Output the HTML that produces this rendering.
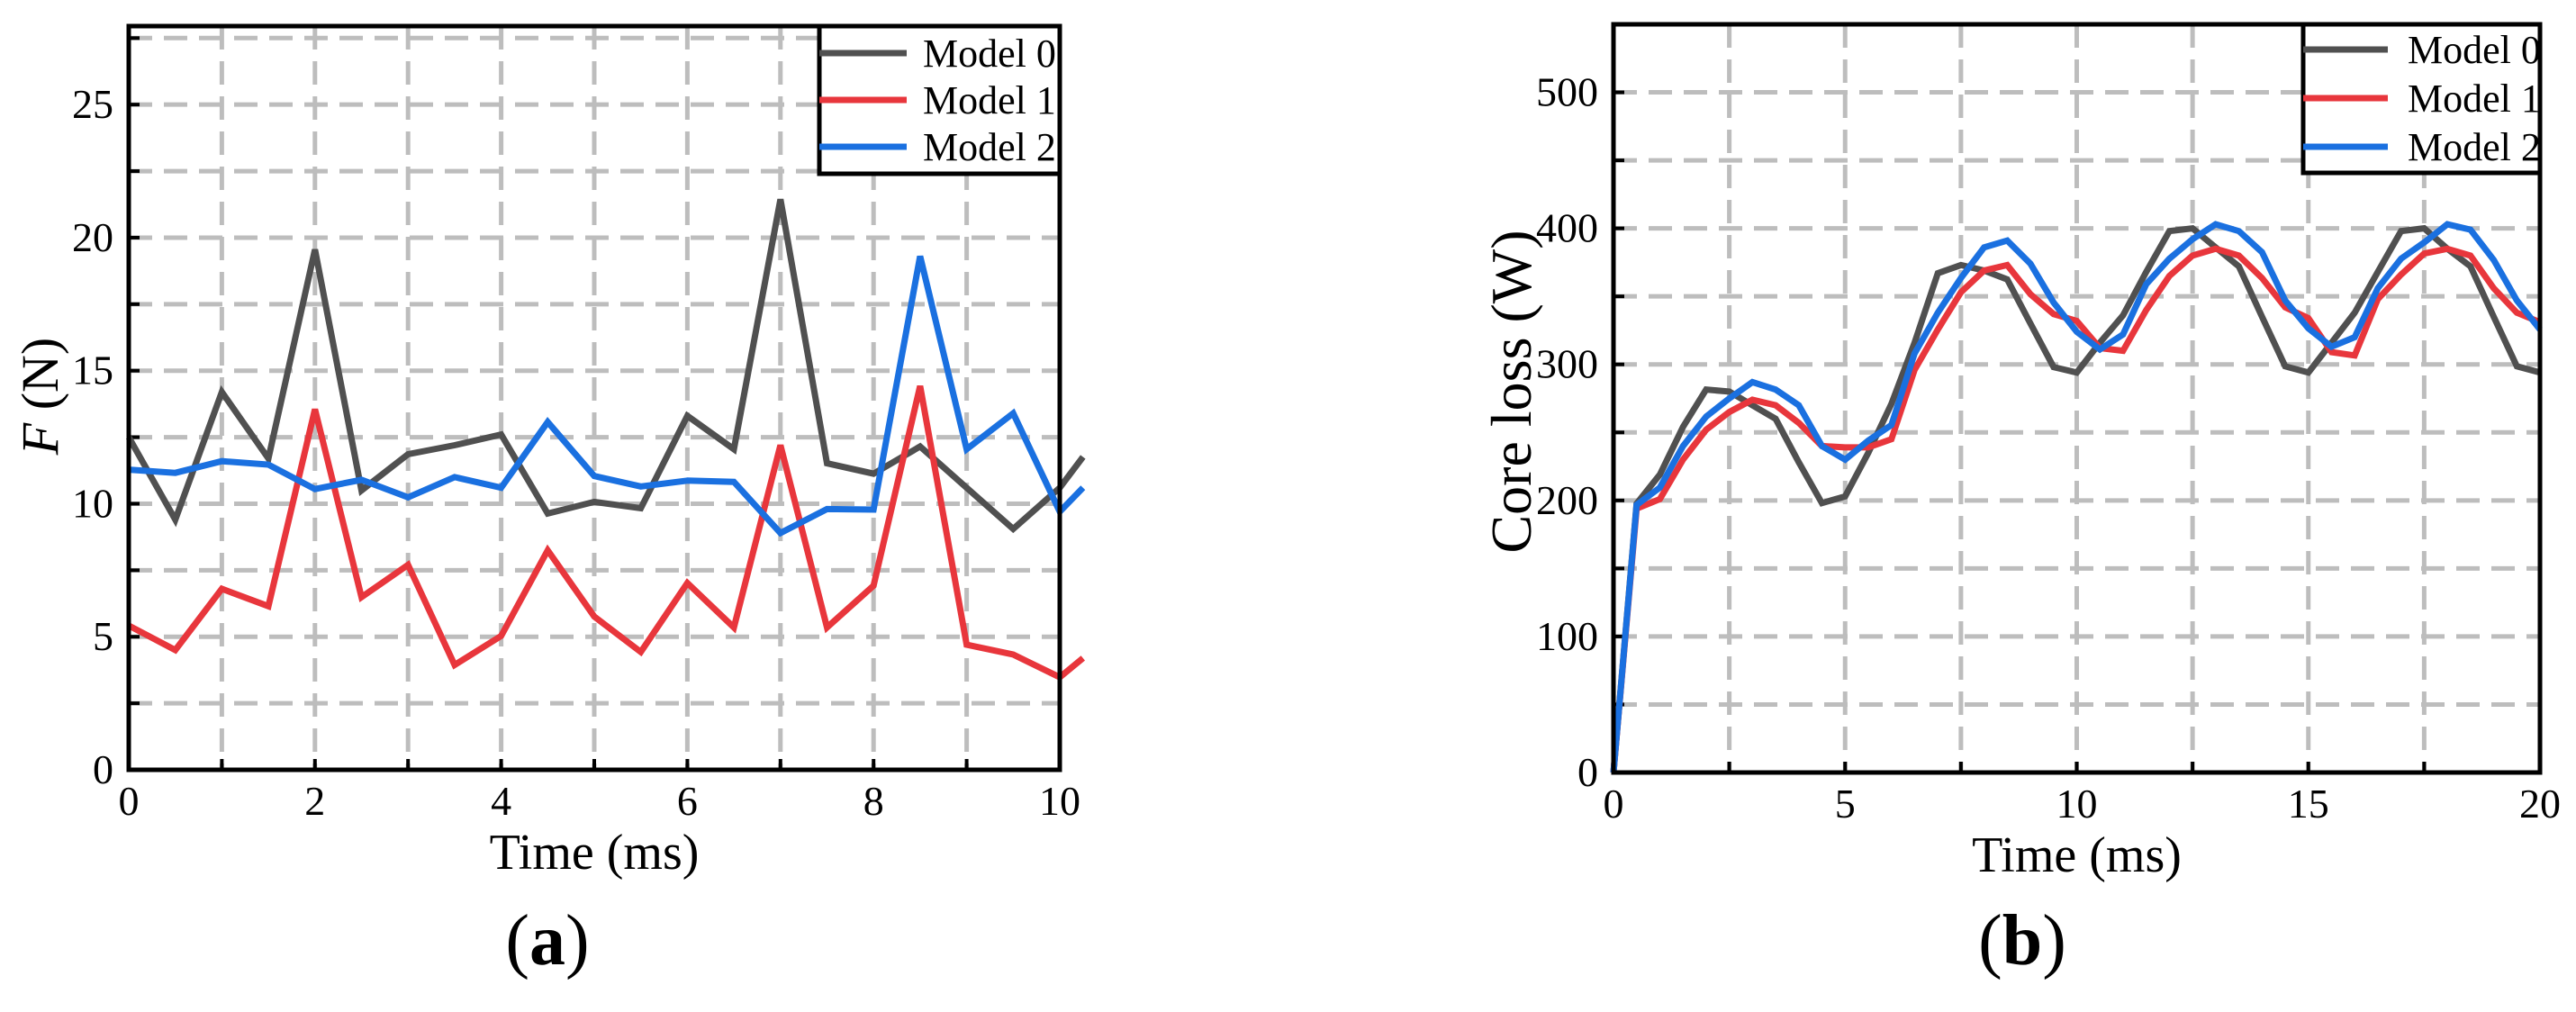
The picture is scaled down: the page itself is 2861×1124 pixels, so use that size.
<!DOCTYPE html>
<html><head><meta charset="utf-8"><style>
html,body{margin:0;padding:0;background:#fff;}
svg{display:block;font-family:"Liberation Serif",serif;}
</style></head><body>
<svg id="fig" width="2861" height="1124" viewBox="0 0 2861 1124" xmlns="http://www.w3.org/2000/svg"></svg>
<script>
// ---- Chart (a) data ----
const timeA = [0,0.5,1,1.5,2,2.5,3,3.5,4,4.5,5,5.5,6,6.5,7,7.5,8,8.5,9,9.5,10,10.25];
const forceModel0 = [12.5,9.4,14.2,11.7,19.55,10.5,11.86,12.2,12.6,9.63,10.07,9.83,13.3,12.05,21.44,11.52,11.13,12.15,10.6,9.05,10.6,11.76];
const forceModel1 = [5.42,4.5,6.8,6.15,13.55,6.49,7.7,3.94,5.03,8.25,5.76,4.43,7.02,5.35,12.2,5.35,6.92,14.42,4.7,4.33,3.48,4.2];
const forceModel2 = [11.28,11.16,11.6,11.47,10.55,10.9,10.24,11.0,10.6,13.07,11.04,10.65,10.87,10.82,8.9,9.8,9.78,19.3,12.05,13.4,9.7,10.6];
const xTicksA = [0,2,4,6,8,10];
const yTicksA = [0,5,10,15,20,25];
// ---- Chart (b) data ----
const timeB = [0,0.5,1,1.5,2,2.5,3,3.5,4,4.5,5,5.5,6,6.5,7,7.5,8,8.5,9,9.5,10,10.5,11,11.5,12,12.5,13,13.5,14,14.5,15,15.5,16,16.5,17,17.5,18,18.5,19,19.5,20];
const lossModel0 = [0,197.6,219,254,281.5,280,270,260,228,198,203,235,271,316,367,373,369,362.5,330,298,294,316,336,368,398,400,386,372,335,298.6,294,316,338,368,398,400,385,372,335,298.6,294];
const lossModel1 = [0,194,201,230,252,265,274,270,257,240,239,239,245,296,325.6,353,369,373,351.6,337,332,312,310,340,365,380,385,380,363.5,342,334,309,306.6,348,366,381.5,385,380,356,338,331];
const lossModel2 = [0,196.7,209.5,240,261.6,275,287,281.5,270,240,230,244,255.5,308,338,363.5,386,391,374,345.5,324,311,322,359,377.7,392,403,398,382.5,347,326.5,313,320,356,377.7,389.6,403,399,376.8,347,325.6];
const xTicksB = [0,5,10,15,20];
const yTicksB = [0,100,200,300,400,500];
const seriesNames = ["Model 0","Model 1","Model 2"];
const colors = ["#505050","#e8363c","#1a70e0"];

const NS = "http://www.w3.org/2000/svg";
const svg = document.getElementById("fig");
function mk(tag, attrs, parent){
  const e = document.createElementNS(NS, tag);
  for (const k in attrs) e.setAttribute(k, attrs[k]);
  (parent||svg).appendChild(e);
  return e;
}

function drawChart(cfg){
  const g = mk("g", {});
  
  
  const sx = v => cfg.L + (v - cfg.xmin) / (cfg.xmax - cfg.xmin) * (cfg.R - cfg.L);
  const sy = v => cfg.B - (v - cfg.ymin) / (cfg.ymax - cfg.ymin) * (cfg.B - cfg.T);
  for (let v = cfg.xmin + cfg.gx; v < cfg.xmax - 1e-9; v += cfg.gx) {
    const l = mk("line", {x1:sx(v), x2:sx(v), y1:cfg.T, y2:cfg.B, stroke:"#bdbdbd", "stroke-width":5, "stroke-dasharray":"26 13"}, g);
    
    
    mk("line", {x1:sx(v), x2:sx(v), y1:cfg.B, y2:cfg.B-12, stroke:"#000", "stroke-width":4}, g);
  }
  for (let v = cfg.ymin + cfg.gy; v < cfg.ymax - 1e-9; v += cfg.gy) {
    const l = mk("line", {x1:cfg.L, x2:cfg.R, y1:sy(v), y2:sy(v), stroke:"#bdbdbd", "stroke-width":5, "stroke-dasharray":"26 13"}, g);
    
    
    mk("line", {x1:cfg.L, x2:cfg.L+12, y1:sy(v), y2:sy(v), stroke:"#000", "stroke-width":4}, g);
  }
  cfg.series.forEach((ys, i) => {
    const d = ys.map((y, j) => (j ? "L" : "M") + sx(cfg.xs[j]).toFixed(1) + " " + sy(y).toFixed(1)).join(" ");
    const p = mk("path", {d:d, fill:"none", stroke:colors[i], "stroke-width":7, "stroke-linejoin":"miter"}, g);
    
    
  });
  const box = mk("rect", {x:cfg.L, y:cfg.T, width:cfg.R-cfg.L, height:cfg.B-cfg.T, fill:"none", stroke:"#000", "stroke-width":5}, g);
  
  
  cfg.xticks.forEach(v => {
    const t = mk("text", {x:sx(v), y:cfg.B+50, "text-anchor":"middle", "font-size":46}, g);
    t.textContent = v;
    
    
  });
  cfg.yticks.forEach(v => {
    const t = mk("text", {x:cfg.L-17, y:sy(v)+15, "text-anchor":"end", "font-size":46}, g);
    t.textContent = v;
    
    
  });
  const xt = mk("text", {x:(cfg.L+cfg.R)/2, y:cfg.B+110, "text-anchor":"middle", "font-size":56}, g);
  xt.textContent = "Time (ms)";
  
  
  const yt = mk("text", {x:0, y:0, "text-anchor":"middle", "font-size":cfg.ytSize, transform:"translate("+cfg.ytX+","+cfg.ytY+") rotate(-90)"}, g);
  yt.innerHTML = cfg.ytitle;
  
  
  const lg = mk("g", {}, g);
  
  
  mk("rect", {x:cfg.lgX, y:cfg.T, width:cfg.R-cfg.lgX, height:cfg.lgB-cfg.T, fill:"#fff", stroke:"#000", "stroke-width":5}, lg);
  seriesNames.forEach((n, i) => {
    const ry = cfg.lgRows[i];
    const e = mk("g", {}, lg);
    
    
    mk("line", {x1:cfg.lgX, x2:cfg.lgLineEnd, y1:ry, y2:ry, stroke:colors[i], "stroke-width":7}, e);
    const t = mk("text", {x:cfg.lgText, y:ry+15, "font-size":44}, e);
    t.textContent = n;
  });
  const pl = mk("text", {x:cfg.plX, y:1071, "text-anchor":"middle", "font-size":80}, g);
  pl.innerHTML = '(<tspan font-weight="bold">' + cfg.panel + '</tspan>)';
  
  
}

drawChart({name:"chart-a-force", L:143, R:1177, T:29, B:855, xmin:0, xmax:10, ymin:0, ymax:27.95,
  gx:1, gy:2.5, xs:timeA, series:[forceModel0, forceModel1, forceModel2], xticks:xTicksA, yticks:yTicksA,
  ytitle:'<tspan font-style="italic">F</tspan> (N)', ytX:64, ytY:440, ytSize:58,
  lgX:910, lgB:193, lgRows:[59,111,163], lgLineEnd:1007, lgText:1025, plX:608, panel:"a"});
drawChart({name:"chart-b-core-loss", L:1792, R:2821, T:27, B:858, xmin:0, xmax:20, ymin:0, ymax:550,
  gx:2.5, gy:50, xs:timeB, series:[lossModel0, lossModel1, lossModel2], xticks:xTicksB, yticks:yTicksB,
  ytitle:'Core loss (W)', ytX:1700, ytY:435, ytSize:64,
  lgX:2558, lgB:192, lgRows:[55,109,163], lgLineEnd:2652, lgText:2674, plX:2246, panel:"b"});
</script>
</body></html>
